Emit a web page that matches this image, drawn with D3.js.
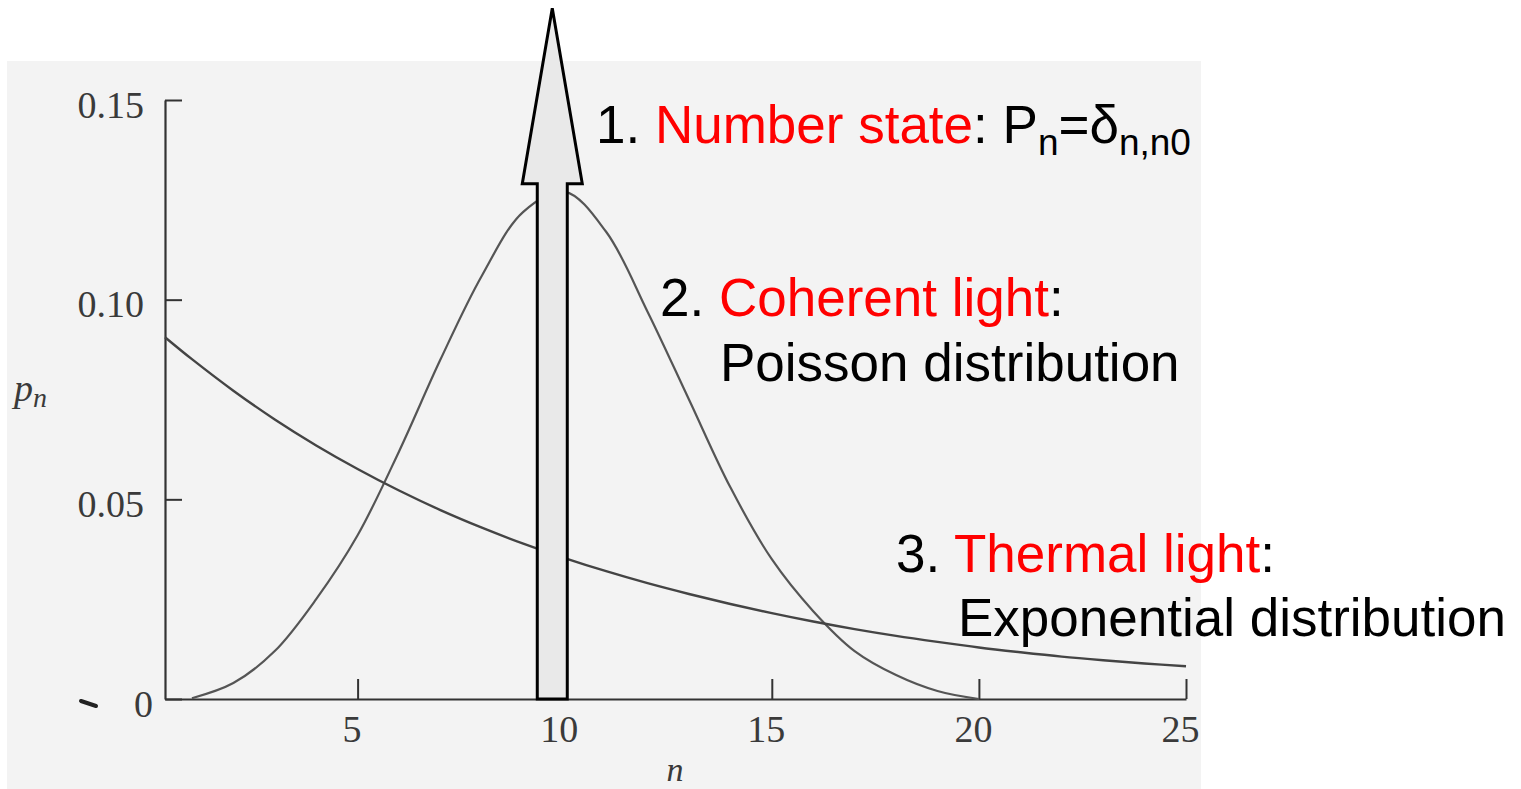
<!DOCTYPE html>
<html>
<head>
<meta charset="utf-8">
<script src="https://cdn.jsdelivr.net/npm/d3@7"></script>
<style>
  body { margin: 0; background: #fff; }
  svg { display: block; }
</style>
</head>
<body>
<div id="chart"></div>
<script>
// photon number n
const xTicks = [5, 10, 15, 20, 25];
const yTicks = [0, 0.05, 0.10, 0.15];

// coherent light (Poisson), n and p_n
const poissonN = [1, 2, 3, 4, 5, 6, 7, 8, 9, 10, 11, 12, 13, 14, 15, 16, 17, 18, 19, 20];
const poissonP = [0.0002, 0.004, 0.012, 0.025, 0.041, 0.062, 0.085, 0.106, 0.122, 0.127,
                  0.117, 0.097, 0.075, 0.053, 0.035, 0.022, 0.012, 0.006, 0.002, 0];

// thermal light (exponential), n and p_n
const thermalN = [0.35, 1, 2, 3, 4, 5, 6, 7, 8, 9, 10, 11, 12, 13, 14, 15, 16, 17, 18, 19, 20, 21, 22, 23, 24, 25];
const thermalP = [0.0906, 0.0851, 0.0772, 0.0700, 0.0635, 0.0576, 0.0522, 0.0473, 0.0429, 0.0389,
                  0.0353, 0.0320, 0.0290, 0.0263, 0.0238, 0.0215, 0.0194, 0.0175, 0.0158, 0.0143,
                  0.0129, 0.0117, 0.0106, 0.0097, 0.0089, 0.0082];

// number state: delta at n0, drawn as an arrow off the top of the plot
const numberStateN = 9.7;
const arrowHeadBase = 0.129;
const arrowTip = 0.173;

const W = 1521, H = 789;

const svg = d3.select('#chart')
  .append('svg')
  .attr('width', W)
  .attr('height', H);

svg.append('rect').attr('width', W).attr('height', H).attr('fill', '#fff');

// scanned page
svg.append('rect')
  .attr('x', 7).attr('y', 61)
  .attr('width', 1194).attr('height', H - 61)
  .attr('fill', '#f3f3f3');

const x = d3.scaleLinear().domain([0.35, 25]).range([165, 1186]);
const y = d3.scaleLinear().domain([0, 0.15]).range([699, 100]);

const serif = '"Liberation Serif", "Times New Roman", serif';
const sans = '"Liberation Sans", Arial, sans-serif';

// y axis, ticks pointing inward
const yAxis = svg.append('g')
  .attr('transform', 'translate(165,0)')
  .call(d3.axisLeft(y).tickValues(yTicks).tickSizeInner(-17).tickSizeOuter(0).tickPadding(21)
    .tickFormat(d => d === 0 ? '0' : d3.format('.2f')(d)));

// x axis, ticks pointing up
const xAxis = svg.append('g')
  .attr('transform', 'translate(0,699)')
  .call(d3.axisBottom(x).tickValues(xTicks).tickSizeInner(-20).tickSizeOuter(0).tickPadding(16)
    .tickFormat(d3.format('d')));

[yAxis, xAxis].forEach(g => {
  g.select('.domain').attr('stroke', '#333').attr('stroke-width', 2.2);
  g.selectAll('.tick line').attr('stroke', '#333').attr('stroke-width', 2);
  g.selectAll('.tick text')
    .attr('fill', '#3a3a3a')
    .style('font-family', serif)
    .style('font-size', '38px');
});
yAxis.selectAll('.tick text').attr('dy', '0.45em');
yAxis.selectAll('.tick text').filter(d => d === 0).attr('x', -12);
xAxis.selectAll('.tick text').attr('x', -6);

// stray mark on the scan beside the zero
svg.append('line')
  .attr('x1', 81).attr('y1', 701).attr('x2', 96).attr('y2', 706)
  .attr('stroke', '#222').attr('stroke-width', 4).attr('stroke-linecap', 'round');

// axis labels
const pLabel = svg.append('text')
  .attr('x', 14).attr('y', 401)
  .attr('fill', '#3a3a3a')
  .style('font-family', serif)
  .style('font-style', 'italic')
  .style('font-size', '38px');
pLabel.append('tspan').text('p');
pLabel.append('tspan').attr('dy', 6).style('font-size', '28px').text('n');

svg.append('text')
  .attr('x', 675).attr('y', 781)
  .attr('text-anchor', 'middle')
  .attr('fill', '#3a3a3a')
  .style('font-family', serif)
  .style('font-style', 'italic')
  .style('font-size', '34px')
  .text('n');

// curves
const line = d3.line()
  .x(d => x(d[0]))
  .y(d => y(d[1]))
  .curve(d3.curveCatmullRom.alpha(0.5));

svg.append('path')
  .datum(poissonN.map((n, i) => [n, poissonP[i]]))
  .attr('fill', 'none')
  .attr('stroke', '#555')
  .attr('stroke-width', 2.2)
  .attr('d', line);

svg.append('path')
  .datum(thermalN.map((n, i) => [n, thermalP[i]]))
  .attr('fill', 'none')
  .attr('stroke', '#444')
  .attr('stroke-width', 2.4)
  .attr('d', line);

// number state arrow
const cx = x(numberStateN);
const shaftHalf = 15, headHalf = 30;
const arrowPts = [
  [cx - shaftHalf, y(0)],
  [cx - shaftHalf, y(arrowHeadBase)],
  [cx - headHalf, y(arrowHeadBase)],
  [cx, y(arrowTip)],
  [cx + headHalf, y(arrowHeadBase)],
  [cx + shaftHalf, y(arrowHeadBase)],
  [cx + shaftHalf, y(0)]
];
svg.append('path')
  .attr('d', d3.line()(arrowPts) + 'Z')
  .attr('fill', '#e9e9e9')
  .attr('stroke', '#000')
  .attr('stroke-width', 3)
  .attr('stroke-linejoin', 'miter');

// annotations
function note(xp, yp, parts) {
  const t = svg.append('text')
    .attr('x', xp).attr('y', yp)
    .style('font-family', sans)
    .style('font-size', '53px');
  parts.forEach(p => {
    const s = t.append('tspan').text(p.text).attr('fill', p.red ? '#ff0000' : '#000');
    if (p.sub) s.attr('dy', 12).style('font-size', '37px');
    if (p.up) s.attr('dy', -12);
  });
}

note(596, 143, [
  { text: '1. ' },
  { text: 'Number state', red: true },
  { text: ': P' },
  { text: 'n', sub: true },
  { text: '=δ', up: true },
  { text: 'n,n0', sub: true }
]);
note(660, 316, [{ text: '2. ' }, { text: 'Coherent light', red: true }, { text: ':' }]);
note(720, 381, [{ text: 'Poisson distribution' }]);
note(896, 572, [{ text: '3. ' }, { text: 'Thermal light', red: true }, { text: ':' }]);
note(958, 636, [{ text: 'Exponential distribution' }]);
</script>
</body>
</html>
